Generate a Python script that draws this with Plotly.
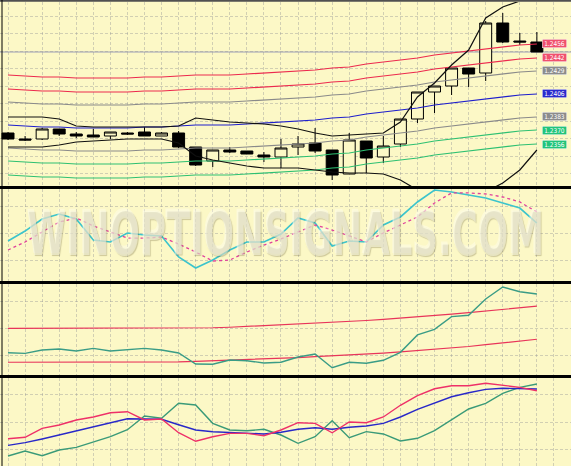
import plotly.graph_objects as go

# ---------------- data ----------------
bars = list(range(32))

open_ = [1.2367, 1.2361, 1.2361, 1.2371, 1.2366, 1.2365, 1.2364, 1.2367, 1.2368, 1.2364,
         1.2367, 1.2353, 1.2339, 1.2350, 1.2349, 1.2345, 1.2343, 1.2353, 1.2357, 1.2350,
         1.2326, 1.2359, 1.2343, 1.2356, 1.2381, 1.2408, 1.2414, 1.2432, 1.2427, 1.2477,
         1.2459, 1.2458]
high = [1.2368, 1.2364, 1.2372, 1.2371, 1.2368, 1.2371, 1.2368, 1.2368, 1.2373, 1.2368,
        1.2369, 1.2353, 1.2350, 1.2353, 1.2349, 1.2348, 1.2361, 1.2364, 1.2372, 1.2350,
        1.2367, 1.2359, 1.2364, 1.2381, 1.2408, 1.2414, 1.2432, 1.2432, 1.2479, 1.2487,
        1.2467, 1.2468]
low = [1.2360, 1.2359, 1.2360, 1.2364, 1.2362, 1.2363, 1.2361, 1.2365, 1.2364, 1.2364,
       1.2352, 1.2334, 1.2333, 1.2347, 1.2346, 1.2338, 1.2332, 1.2345, 1.2347, 1.2320,
       1.2326, 1.2327, 1.2337, 1.2353, 1.2377, 1.2387, 1.2405, 1.2413, 1.2419, 1.2457,
       1.2455, 1.2448]
close = [1.2361, 1.2360, 1.2371, 1.2366, 1.2364, 1.2363, 1.2368, 1.2366, 1.2364, 1.2367,
         1.2353, 1.2335, 1.2350, 1.2348, 1.2346, 1.2343, 1.2352, 1.2356, 1.2349, 1.2325,
         1.2360, 1.2342, 1.2354, 1.2381, 1.2408, 1.2414, 1.2432, 1.2426, 1.2477, 1.2458,
         1.2458, 1.2448]

ma_blue = [1.2375, 1.2374, 1.2373, 1.2373, 1.2372, 1.2372, 1.2372, 1.2372, 1.2373, 1.2373,
           1.2374, 1.2375, 1.2375, 1.2375, 1.2376, 1.2377, 1.2378, 1.2379, 1.2380, 1.2382,
           1.2383, 1.2386, 1.2388, 1.2390, 1.2392, 1.2395, 1.2397, 1.2399, 1.2401, 1.2403,
           1.2405, 1.2406]
env_red_outer = [1.2425, 1.2424, 1.2423, 1.2423, 1.2422, 1.2422, 1.2422, 1.2422, 1.2423, 1.2423,
                 1.2424, 1.2425, 1.2425, 1.2425, 1.2426, 1.2427, 1.2428, 1.2429, 1.2430, 1.2432,
                 1.2433, 1.2436, 1.2438, 1.2440, 1.2442, 1.2445, 1.2447, 1.2449, 1.2451, 1.2453,
                 1.2455, 1.2456]
env_red_inner = [1.2411, 1.2410, 1.2409, 1.2409, 1.2408, 1.2408, 1.2408, 1.2408, 1.2409, 1.2409,
                 1.2410, 1.2411, 1.2411, 1.2411, 1.2412, 1.2413, 1.2414, 1.2415, 1.2416, 1.2418,
                 1.2419, 1.2422, 1.2424, 1.2426, 1.2428, 1.2431, 1.2433, 1.2435, 1.2437, 1.2439,
                 1.2441, 1.2442]
env_grey_upper = [1.2398, 1.2397, 1.2396, 1.2396, 1.2395, 1.2395, 1.2395, 1.2395, 1.2396, 1.2396,
                  1.2397, 1.2398, 1.2398, 1.2398, 1.2399, 1.2400, 1.2401, 1.2402, 1.2403, 1.2405,
                  1.2406, 1.2409, 1.2411, 1.2413, 1.2415, 1.2418, 1.2420, 1.2422, 1.2424, 1.2426,
                  1.2428, 1.2429]
env_grey_lower = [1.2352, 1.2351, 1.2350, 1.2350, 1.2349, 1.2349, 1.2349, 1.2349, 1.2350, 1.2350,
                  1.2351, 1.2352, 1.2352, 1.2352, 1.2353, 1.2354, 1.2355, 1.2356, 1.2357, 1.2359,
                  1.2360, 1.2363, 1.2365, 1.2367, 1.2369, 1.2372, 1.2374, 1.2376, 1.2378, 1.2380,
                  1.2382, 1.2383]
env_green_inner = [1.2339, 1.2338, 1.2337, 1.2337, 1.2336, 1.2336, 1.2336, 1.2336, 1.2337, 1.2337,
                   1.2338, 1.2339, 1.2339, 1.2339, 1.2340, 1.2341, 1.2342, 1.2343, 1.2344, 1.2346,
                   1.2347, 1.2350, 1.2352, 1.2354, 1.2356, 1.2359, 1.2361, 1.2363, 1.2365, 1.2367,
                   1.2369, 1.2370]
env_green_outer = [1.2325, 1.2324, 1.2323, 1.2323, 1.2322, 1.2322, 1.2322, 1.2322, 1.2323, 1.2323,
                   1.2324, 1.2325, 1.2325, 1.2325, 1.2326, 1.2327, 1.2328, 1.2329, 1.2330, 1.2332,
                   1.2333, 1.2336, 1.2338, 1.2340, 1.2342, 1.2345, 1.2347, 1.2349, 1.2351, 1.2353,
                   1.2355, 1.2356]
bb_upper = [1.2383, 1.2383, 1.2383, 1.2381, 1.2374, 1.2373, 1.2373, 1.2373, 1.2373, 1.2373,
            1.2374, 1.2382, 1.2380, 1.2378, 1.2377, 1.2376, 1.2374, 1.2371, 1.2367, 1.2364,
            1.2365, 1.2366, 1.2367, 1.2378, 1.2403, 1.2417, 1.2435, 1.2450, 1.2482, 1.2493,
            1.2499, 1.2502]
bb_lower = [1.2353, 1.2353, 1.2353, 1.2355, 1.2358, 1.2359, 1.2360, 1.2361, 1.2361, 1.2361,
            1.2357, 1.2344, 1.2340, 1.2337, 1.2334, 1.2332, 1.2332, 1.2332, 1.2330, 1.2328,
            1.2327, 1.2327, 1.2326, 1.2320, 1.2310, 1.2306, 1.2304, 1.2303, 1.2308, 1.2317,
            1.2330, 1.2350]
bid_price = 1.2448

# oscillator panel 2 (stochastic-like, 0..100)
osc_main = [43.5, 54.3, 67.4, 72.8, 67.4, 44.6, 42.4, 52.2, 50.0, 48.9,
            26.1, 14.1, 22.8, 33.7, 42.4, 42.4, 51.1, 68.5, 63.0, 38.0,
            43.5, 42.4, 60.9, 69.6, 85.9, 98.9, 96.7, 93.5, 90.2, 84.8,
            79.3, 63.0]
osc_signal = [33.7, 42.4, 53.3, 64.1, 68.5, 59.8, 53.3, 46.7, 46.7, 47.8,
              40.2, 31.5, 21.7, 22.8, 31.5, 39.1, 45.7, 53.3, 60.9, 55.4,
              48.9, 42.4, 52.2, 60.9, 69.6, 84.8, 95.7, 95.7, 94.6, 91.3,
              85.9, 75.0]

# panel 3 (line with two bands)
p3_line = [24.5, 23.8, 27.5, 28.6, 26.4, 29.3, 26.4, 27.5, 29.3, 27.5,
           24.2, 12.1, 11.8, 16.5, 15.7, 13.2, 14.0, 19.8, 23.1, 8.0,
           14.0, 12.9, 16.2, 24.9, 44.0, 50.2, 64.1, 65.6, 83.5, 96.7,
           91.5, 89.0]
p3_band_upper = [51.3, 51.3, 51.3, 51.3, 51.3, 51.3, 51.3, 51.3, 51.3, 51.3,
                 51.3, 51.3, 51.9, 52.5, 53.4, 54.2, 54.9, 55.7, 56.5, 57.3,
                 58.5, 59.9, 61.1, 62.4, 63.8, 65.4, 66.9, 68.5, 70.2, 72.0,
                 73.8, 75.6]
p3_band_lower = [14.0, 14.0, 14.0, 14.0, 14.0, 14.0, 14.0, 14.0, 14.0, 14.0,
                 14.4, 14.9, 15.5, 16.2, 16.9, 17.7, 18.5, 19.2, 20.1, 21.0,
                 21.9, 22.7, 24.1, 25.5, 26.8, 28.1, 29.7, 31.3, 33.3, 35.3,
                 37.3, 39.3]

# panel 4 (three lines)
p4_red = [31.0, 32.6, 42.8, 46.6, 52.3, 55.7, 60.5, 61.7, 52.3, 53.4,
          37.8, 28.1, 33.3, 37.1, 37.1, 34.4, 40.9, 49.2, 48.5, 37.8,
          50.0, 49.2, 55.7, 69.0, 79.9, 87.8, 91.2, 91.2, 94.0, 91.7,
          89.4, 85.5]
p4_blue = [23.5, 26.5, 30.7, 35.2, 39.8, 44.0, 49.2, 53.7, 53.4, 53.1,
           46.9, 40.9, 39.0, 38.3, 37.8, 36.4, 38.3, 41.7, 43.5, 41.7,
           44.0, 45.4, 48.5, 55.7, 64.4, 71.9, 78.7, 83.3, 87.1, 88.3,
           88.3, 87.5]
p4_green = [11.4, 17.0, 11.7, 18.2, 21.2, 27.3, 33.3, 41.2, 56.8, 54.2,
            71.2, 69.3, 48.5, 40.9, 40.1, 41.7, 35.2, 25.8, 33.3, 51.5,
            32.1, 39.0, 36.4, 28.4, 31.5, 40.1, 52.3, 64.8, 71.2, 82.6,
            89.4, 93.2]

watermark = "WINOPTIONSIGNALS.COM"

# ---------------- styling ----------------
BG = "#FCF8C6"
RED = "#EC2A4E"
GREY = "#8A8A8A"
BLUE = "#1E1ECC"
GREEN = "#2EC072"
W, H = 571, 466

def dom(top_px, bot_px):
    return [(H - bot_px) / H, (H - top_px) / H]

fig = go.Figure()

for vals, col in [(env_red_outer, RED), (env_red_inner, RED), (env_grey_upper, GREY),
                  (ma_blue, BLUE), (env_grey_lower, GREY), (env_green_inner, GREEN),
                  (env_green_outer, GREEN)]:
    fig.add_trace(go.Scatter(x=bars, y=vals, mode="lines", line=dict(color=col, width=1.2),
                             xaxis="x", yaxis="y", hoverinfo="skip"))
for vals in [bb_upper, bb_lower]:
    fig.add_trace(go.Scatter(x=bars, y=vals, mode="lines", line=dict(color="#101010", width=1.2),
                             xaxis="x", yaxis="y", hoverinfo="skip"))

fig.add_trace(go.Candlestick(
    x=bars, open=open_, high=high, low=low, close=close,
    increasing=dict(line=dict(color="#000000", width=1), fillcolor=BG),
    decreasing=dict(line=dict(color="#000000", width=1), fillcolor="#000000"),
    xaxis="x", yaxis="y", hoverinfo="skip"))

fig.add_trace(go.Scatter(x=bars, y=osc_main, mode="lines", line=dict(color="#3CC4CC", width=1.6),
                         xaxis="x2", yaxis="y2", hoverinfo="skip"))
fig.add_trace(go.Scatter(x=bars, y=osc_signal, mode="lines",
                         line=dict(color="#E0409C", width=1.3, dash="dot"),
                         xaxis="x2", yaxis="y2", hoverinfo="skip"))

fig.add_trace(go.Scatter(x=bars, y=p3_band_upper, mode="lines", line=dict(color="#E8345A", width=1.2),
                         xaxis="x3", yaxis="y3", hoverinfo="skip"))
fig.add_trace(go.Scatter(x=bars, y=p3_band_lower, mode="lines", line=dict(color="#E8345A", width=1.2),
                         xaxis="x3", yaxis="y3", hoverinfo="skip"))
fig.add_trace(go.Scatter(x=bars, y=p3_line, mode="lines", line=dict(color="#3A9C86", width=1.4),
                         xaxis="x3", yaxis="y3", hoverinfo="skip"))

fig.add_trace(go.Scatter(x=bars, y=p4_green, mode="lines", line=dict(color="#3A9A78", width=1.4),
                         xaxis="x4", yaxis="y4", hoverinfo="skip"))
fig.add_trace(go.Scatter(x=bars, y=p4_blue, mode="lines", line=dict(color="#2828C8", width=1.4),
                         xaxis="x4", yaxis="y4", hoverinfo="skip"))
fig.add_trace(go.Scatter(x=bars, y=p4_red, mode="lines", line=dict(color="#EE3068", width=1.4),
                         xaxis="x4", yaxis="y4", hoverinfo="skip"))

grid = dict(showgrid=True, gridcolor="rgba(150,150,150,0.42)", griddash="3px,2px", gridwidth=1,
            zeroline=False, showticklabels=False, ticks="", showline=False)
xr = [-0.47, 33.0]
layout = dict(
    width=W, height=H, margin=dict(l=0, r=0, t=0, b=0),
    paper_bgcolor=BG, plot_bgcolor=BG, showlegend=False, boxgap=0.3, boxgroupgap=0,
    hovermode=False, dragmode=False,
    xaxis=dict(range=xr, domain=[0, 1], anchor="y", dtick=1, tick0=0, rangeslider=dict(visible=False), **grid),
    xaxis2=dict(range=xr, domain=[0, 1], anchor="y2", dtick=1, tick0=0, matches="x", **grid),
    xaxis3=dict(range=xr, domain=[0, 1], anchor="y3", dtick=1, tick0=0, matches="x", **grid),
    xaxis4=dict(range=xr, domain=[0, 1], anchor="y4", dtick=1, tick0=0, matches="x", **grid),
    yaxis=dict(domain=dom(2, 186), range=[1.2314, 1.2498], anchor="x", tick0=1.2484, dtick=0.00175, **grid),
    yaxis2=dict(domain=dom(189, 281), range=[0, 100], anchor="x2", tick0=22.8, dtick=29.35, **grid),
    yaxis3=dict(domain=dom(284, 375), range=[0, 100], anchor="x3", tick0=20.9, dtick=29.7, **grid),
    yaxis4=dict(domain=dom(378, 466), range=[0, 100], anchor="x4", tick0=19.3, dtick=30.7, **grid),
)
fig.update_layout(**layout)

shapes = []
shapes.append(dict(type="line", xref="paper", yref="y", x0=0, x1=1, y0=bid_price, y1=bid_price,
                   line=dict(color="#BDBDBD", width=1.5), layer="below"))
for ypx in [187.5, 282.5, 376.5]:
    yp = (H - ypx) / H
    shapes.append(dict(type="line", xref="paper", yref="paper", x0=0, x1=1, y0=yp, y1=yp,
                       line=dict(color="#000000", width=3)))
shapes.append(dict(type="line", xref="paper", yref="paper", x0=0, x1=1, y0=1 - 0.8 / H, y1=1 - 0.8 / H,
                   line=dict(color="#505050", width=2)))
shapes.append(dict(type="line", xref="paper", yref="paper", x0=2 / W, x1=2 / W, y0=0, y1=1,
                   line=dict(color="#000000", width=1)))
fig.update_layout(shapes=shapes)

tag_x = 32.03
tags = [(env_red_outer, "#F0506E"), (env_red_inner, "#F0506E"), (env_grey_upper, "#8C8C8C"),
        (ma_blue, "#2A2ACC"), (env_grey_lower, "#8C8C8C"), (env_green_inner, "#22C47A"),
        (env_green_outer, "#22C47A")]
annotations = []
for vals, col in tags:
    annotations.append(dict(x=tag_x, y=vals[-1], xref="x", yref="y", text=f"{vals[-1]:.4f}",
                            showarrow=False, bgcolor=col, bordercolor="#F4F4F4", borderwidth=0.5,
                            borderpad=0, width=24, height=8,
                            font=dict(family="DejaVu Sans Condensed, DejaVu Sans", size=6.5, color="#FFFFFF")))
annotations.append(dict(
    x=0.5, y=(H - 233) / H, xref="paper", yref="paper", showarrow=False,
    text=watermark,
    font=dict(family="Liberation Sans Narrow, DejaVu Sans Condensed, sans-serif",
              size=44, weight="bold", color="rgba(255,255,236,0.5)",
              shadow="1px 1px 1px rgba(100,90,50,0.6), -1px -1px 0px rgba(255,255,255,0.65)")))
fig.update_layout(annotations=annotations)

post = """
document.documentElement.style.margin='0';
document.body.style.margin='0';
document.body.style.padding='0';
document.body.style.overflow='hidden';
var gd = document.getElementById('{plot_id}');
function squeeze(){
  gd.querySelectorAll('text.annotation-text').forEach(function(t){
    if(t.textContent.indexOf('WINOPTION')>=0){
      var b=t.getBBox(); var tw=517; var sx=tw/b.width; var sy=1.36;
      var cx=b.x+b.width/2, cy=b.y+b.height/2;
      t.setAttribute('transform','translate('+cx+','+cy+') scale('+sx+','+sy+') translate('+(-cx)+','+(-cy)+')');
    }
  });
}
squeeze();
"""
fig.write_html("out.html", post_script=post, config={"displayModeBar": False, "staticPlot": False})
